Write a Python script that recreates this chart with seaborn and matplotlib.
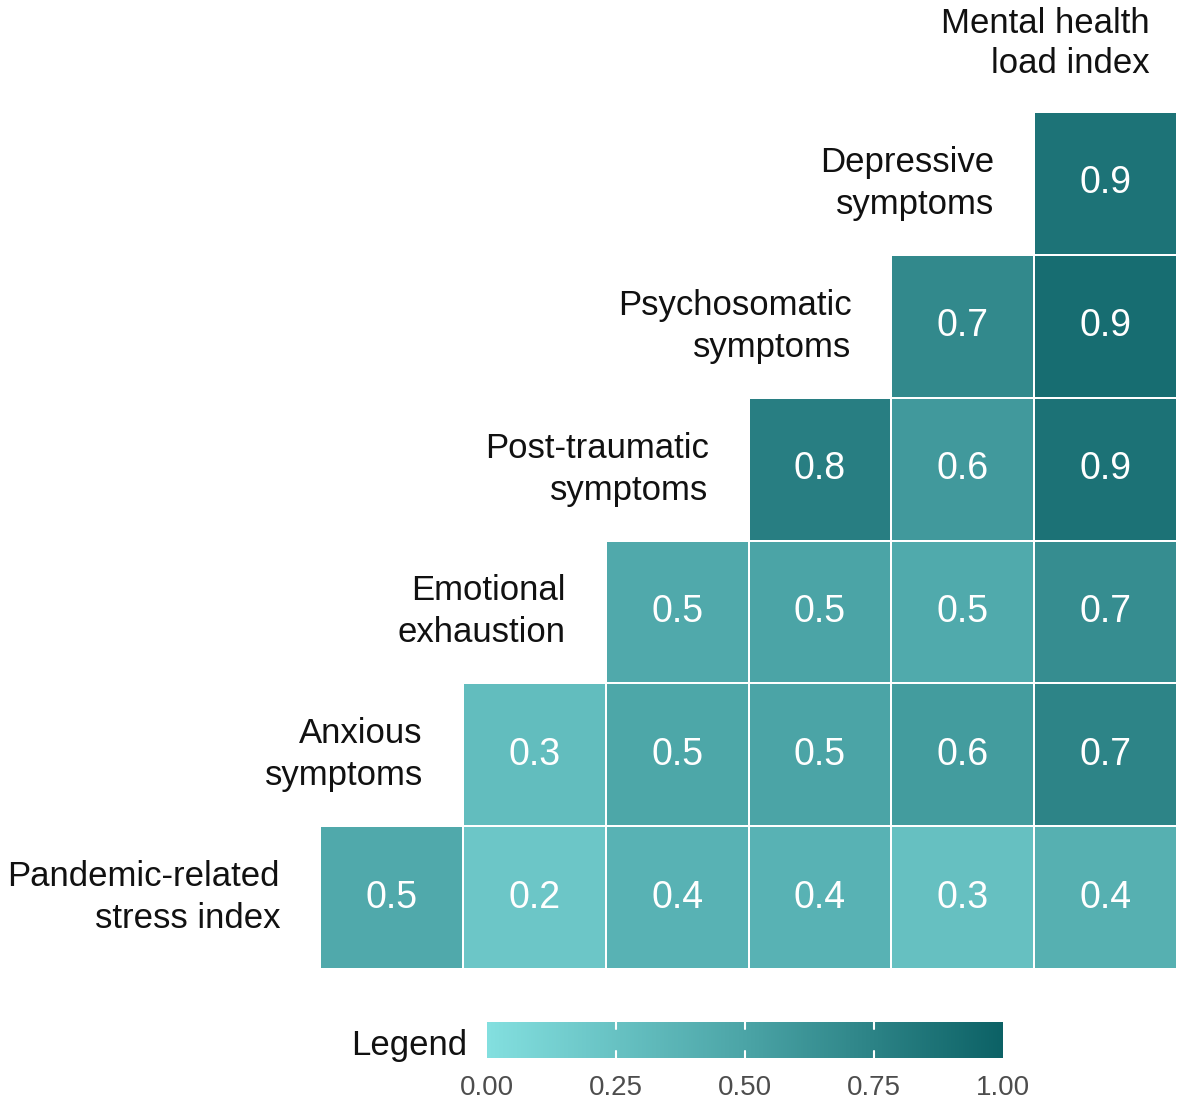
import numpy as np
import matplotlib.pyplot as plt
import seaborn as sns
from matplotlib.colors import LinearSegmentedColormap


# row labels, top to bottom (the top one sits above the last column)
top_label = "Mental health\nload index"
row_labels = [
    "Depressive\nsymptoms",
    "Psychosomatic\nsymptoms",
    "Post-traumatic\nsymptoms",
    "Emotional\nexhaustion",
    "Anxious\nsymptoms",
    "Pandemic-related\nstress index",
]

# correlations per row, left to right (each row ends in the last column)
row_values = [
    [0.86],
    [0.70, 0.91],
    [0.78, 0.58, 0.87],
    [0.46, 0.50, 0.45, 0.67],
    [0.29, 0.48, 0.50, 0.56, 0.74],
    [0.46, 0.21, 0.38, 0.38, 0.26, 0.40],
]

cbar_ticks = [0.0, 0.25, 0.5, 0.75, 1.0]
cbar_ticklabels = ["0.00", "0.25", "0.50", "0.75", "1.00"]


n = len(row_labels)
matrix = np.full((n, n), np.nan)
for r, vals in enumerate(row_values):
    matrix[r, n - len(vals):] = vals
mask = np.isnan(matrix)

cmap = LinearSegmentedColormap.from_list("teal", ["#83dfdf", "#4ba4a6", "#0c6165"])

sns.set_style("white")
plt.rcParams["font.family"] = ["Liberation Sans", "DejaVu Sans"]

W, H = 1180, 1106
fig = plt.figure(figsize=(W / 100, H / 100), dpi=100)
ax = fig.add_axes([320 / W, 1 - 969 / H, 857 / W, 857 / H])
cax = fig.add_axes([487 / W, 1 - 1058 / H, 516 / W, 36 / H])

sns.heatmap(matrix, mask=mask, cmap=cmap, vmin=0, vmax=1,
            annot=True, fmt=".1f",
            annot_kws={"size": 27, "color": "white"},
            linewidths=1.2, linecolor="white",
            xticklabels=False, yticklabels=False,
            cbar_ax=cax, cbar_kws={"orientation": "horizontal"},
            ax=ax)

# labels to the left of each row's first cell
for r, label in enumerate(row_labels):
    first = n - len(row_values[r])
    ax.text(first - 0.28, r + 0.5, label, ha="right", va="center",
            fontsize=25, color="#111111", linespacing=1.35, clip_on=False)
ax.text(n - 0.19, -0.48, top_label, ha="right", va="center",
        fontsize=25, color="#111111", linespacing=1.3, clip_on=False)

# colorbar
cbar = ax.collections[0].colorbar
cbar.outline.set_visible(False)
cbar.set_ticks(cbar_ticks)
cbar.set_ticklabels(cbar_ticklabels)
cax.tick_params(axis="x", length=0, pad=12,
                labelsize=20, labelcolor="#4d4d4d")
# white guide ticks inside the bar, ggplot style
for t in cbar_ticks[1:-1]:
    cax.axvline(t, ymin=0, ymax=0.2, color="white", lw=1.5)
    cax.axvline(t, ymin=0.8, ymax=1, color="white", lw=1.5)
fig.text(467 / W, 1 - 1045 / H, "Legend", ha="right", va="center",
         fontsize=25, color="#111111")

fig.savefig("out.png", dpi=100)
